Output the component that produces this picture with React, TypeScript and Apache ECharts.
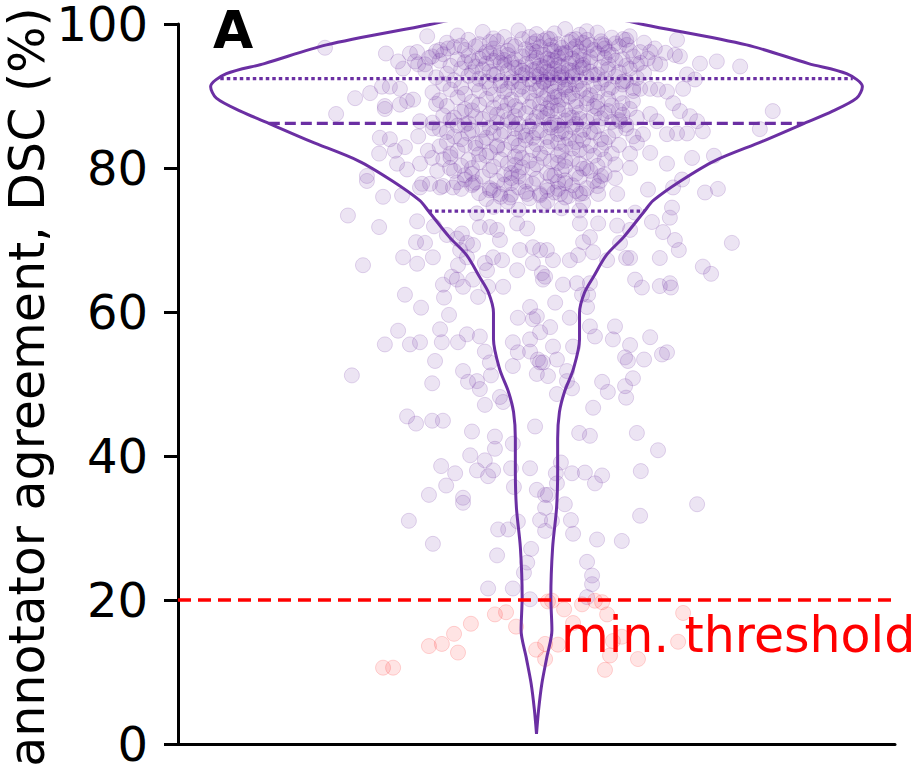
import { useEffect, useRef } from "react";
import * as echarts from "echarts";

// Agreement scale (DSC, %) and the minimum acceptable agreement
const yTicks = [0, 20, 40, 60, 80, 100];
const threshold = 20;
// Lower quartile, median, upper quartile of the DSC distribution
const quartiles = [74.0, 86.2, 92.4];

// Kernel density profile of the violin: DSC level and half-width (jitter units)
const violinDsc = [1.4, 4.8, 8.4, 12.1, 15.8, 20.4, 27.3, 32.8, 37.9, 42.4, 46.1, 48.9, 52.1, 56.2, 59.9, 62.7, 64.9, 67.9, 70.4, 74.0, 75.5, 78.2, 81.0, 83.7, 86.1, 87.9, 89.7, 91.3, 93.1, 94.5, 97.1, 99.9, 101.5, 102.6];
const violinHalfWidth = [0, 0.006, 0.015, 0.029, 0.043, 0.04, 0.045, 0.056, 0.059, 0.059, 0.064, 0.078, 0.103, 0.12, 0.12, 0.134, 0.159, 0.195, 0.243, 0.301, 0.326, 0.402, 0.497, 0.63, 0.742, 0.826, 0.893, 0.909, 0.865, 0.759, 0.586, 0.301, 0.15, 0];

// Individual cases: [horizontal jitter, DSC %]
const coreScores = [
  [-0.22, 98.4], [-0.15, 98.9], [-0.09, 98.2], [-0.05, 99.1], [0.0, 98.6], [0.03, 98.0], [0.08, 99.3], [0.12, 98.5], [0.17, 98.8], [0.21, 98.1], [-0.12, 98.0], [0.05, 98.7], [0.26, 98.3], [-0.02, 98.2], [0.14, 99.0],
  [-0.25, 97.4], [-0.19, 97.8], [-0.16, 97.2], [-0.11, 97.6], [-0.07, 97.1], [-0.04, 97.9], [-0.01, 97.3], [0.02, 97.7], [0.06, 97.2], [0.09, 97.5], [0.11, 97.9], [0.15, 97.1], [0.18, 97.6], [0.22, 97.3], [0.25, 97.8], [0.3, 97.4], [-0.13, 97.5], [0.04, 97.0], [0.13, 97.4], [-0.21, 97.0], [0.19, 97.0], [0.0, 97.6],
  [-0.28, 96.2], [-0.23, 96.8], [-0.2, 96.4], [-0.17, 96.9], [-0.14, 96.1], [-0.12, 96.6], [-0.08, 96.3], [-0.06, 96.9], [-0.03, 96.5], [0.0, 96.1], [0.01, 96.8], [0.04, 96.4], [0.07, 96.7], [0.08, 96.0], [0.1, 96.5], [0.12, 96.2], [0.14, 96.8], [0.16, 96.4], [0.19, 96.6], [0.2, 96.1], [0.23, 96.9], [0.26, 96.3], [0.33, 96.6], [-0.1, 96.0], [0.05, 96.2], [-0.01, 96.3], [0.11, 96.9], [0.36, 96.0],
  [-0.3, 95.3], [-0.26, 95.8], [-0.22, 95.1], [-0.19, 95.6], [-0.16, 95.2], [-0.13, 95.9], [-0.11, 95.4], [-0.08, 95.7], [-0.06, 95.1], [-0.04, 95.5], [-0.02, 95.9], [0.0, 95.3], [0.02, 95.7], [0.04, 95.0], [0.06, 95.4], [0.08, 95.8], [0.1, 95.2], [0.12, 95.6], [0.13, 95.0], [0.15, 95.4], [0.17, 95.9], [0.19, 95.3], [0.21, 95.7], [0.24, 95.1], [0.27, 95.5], [0.31, 95.2], [-0.09, 95.0], [0.03, 95.2], [0.07, 95.9], [-0.15, 95.5],
  [-0.33, 94.4], [-0.27, 94.9], [-0.24, 94.2], [-0.2, 94.7], [-0.17, 94.1], [-0.14, 94.5], [-0.12, 94.9], [-0.09, 94.3], [-0.07, 94.7], [-0.05, 94.0], [-0.03, 94.4], [-0.01, 94.8], [0.01, 94.2], [0.03, 94.6], [0.05, 94.9], [0.07, 94.1], [0.09, 94.5], [0.11, 94.8], [0.13, 94.3], [0.15, 94.7], [0.18, 94.0], [0.2, 94.4], [0.22, 94.9], [0.25, 94.2], [0.29, 94.6], [0.02, 94.0], [-0.1, 94.6], [0.06, 94.3], [0.12, 94.0], [-0.18, 94.8],
  [-0.31, 93.5], [-0.25, 93.1], [-0.21, 93.8], [-0.18, 93.3], [-0.15, 93.7], [-0.11, 93.1], [-0.08, 93.5], [-0.06, 93.9], [-0.03, 93.2], [-0.01, 93.6], [0.01, 93.0], [0.03, 93.4], [0.05, 93.8], [0.07, 93.2], [0.09, 93.6], [0.11, 93.1], [0.13, 93.9], [0.15, 93.4], [0.17, 93.0], [0.2, 93.7], [0.23, 93.3], [0.26, 93.8], [0.3, 93.2], [-0.13, 93.4], [0.0, 93.8], [0.04, 93.0], [0.1, 93.5], [-0.04, 93.5],
  [-0.28, 92.6], [-0.23, 92.2], [-0.19, 92.8], [-0.16, 92.4], [-0.12, 92.9], [-0.1, 92.1], [-0.07, 92.5], [-0.04, 92.9], [-0.02, 92.3], [0.0, 92.7], [0.02, 92.0], [0.04, 92.5], [0.06, 92.9], [0.08, 92.3], [0.1, 92.7], [0.12, 92.1], [0.14, 92.6], [0.16, 92.9], [0.19, 92.3], [0.22, 92.7], [0.25, 92.1], [0.28, 92.5], [-0.05, 92.0], [0.03, 92.3], [0.07, 92.6], [-0.14, 92.0],
  [-0.26, 91.7], [-0.21, 91.2], [-0.17, 91.6], [-0.13, 91.1], [-0.1, 91.5], [-0.07, 91.9], [-0.04, 91.3], [-0.01, 91.7], [0.01, 91.1], [0.04, 91.4], [0.06, 91.8], [0.08, 91.2], [0.11, 91.6], [0.13, 91.0], [0.16, 91.4], [0.18, 91.8], [0.21, 91.2], [0.24, 91.6], [0.27, 91.1], [0.02, 91.9], [-0.08, 91.0], [0.09, 91.5],
  [-0.29, 90.5], [-0.24, 90.9], [-0.2, 90.3], [-0.16, 90.7], [-0.12, 90.2], [-0.09, 90.6], [-0.05, 90.9], [-0.02, 90.4], [0.0, 90.8], [0.03, 90.2], [0.05, 90.6], [0.08, 90.9], [0.1, 90.3], [0.12, 90.7], [0.15, 90.1], [0.17, 90.5], [0.2, 90.9], [0.23, 90.3], [0.27, 90.7], [0.06, 90.0],
  [-0.27, 89.4], [-0.22, 89.8], [-0.18, 89.2], [-0.14, 89.6], [-0.1, 89.1], [-0.07, 89.5], [-0.04, 89.9], [-0.01, 89.3], [0.02, 89.7], [0.04, 89.1], [0.07, 89.5], [0.09, 89.9], [0.11, 89.3], [0.14, 89.7], [0.17, 89.2], [0.2, 89.6], [0.24, 89.0], [0.05, 89.8],
  [-0.25, 88.6], [-0.2, 88.2], [-0.16, 88.8], [-0.12, 88.4], [-0.08, 88.9], [-0.05, 88.1], [-0.02, 88.5], [0.01, 88.9], [0.03, 88.3], [0.06, 88.7], [0.08, 88.1], [0.11, 88.5], [0.14, 88.9], [0.17, 88.3], [0.21, 88.7], [0.26, 88.2],
  [-0.26, 87.3], [-0.21, 87.8], [-0.17, 87.1], [-0.13, 87.5], [-0.09, 87.9], [-0.06, 87.2], [-0.03, 87.6], [0.0, 87.1], [0.03, 87.5], [0.06, 87.9], [0.09, 87.3], [0.12, 87.7], [0.16, 87.2], [0.19, 87.6], [0.24, 87.4],
  [-0.24, 86.6], [-0.19, 86.2], [-0.15, 86.8], [-0.11, 86.3], [-0.08, 86.7], [-0.05, 86.1], [-0.01, 86.5], [0.02, 86.9], [0.05, 86.3], [0.08, 86.6], [0.11, 86.1], [0.14, 86.5], [0.18, 86.9], [0.21, 86.4], [0.25, 86.0],
  [-0.27, 85.4], [-0.22, 85.9], [-0.18, 85.2], [-0.13, 85.6], [-0.09, 85.1], [-0.06, 85.5], [-0.02, 85.8], [0.01, 85.2], [0.04, 85.6], [0.07, 85.1], [0.1, 85.7], [0.13, 85.3], [0.17, 85.8], [0.22, 85.2],
  [-0.23, 84.4], [-0.19, 84.8], [-0.14, 84.2], [-0.1, 84.6], [-0.06, 84.1], [-0.03, 84.5], [0.0, 84.9], [0.03, 84.3], [0.06, 84.7], [0.09, 84.1], [0.12, 84.5], [0.16, 84.9], [0.2, 84.3],
  [-0.25, 83.6], [-0.2, 83.2], [-0.15, 83.7], [-0.11, 83.1], [-0.07, 83.5], [-0.03, 83.9], [0.0, 83.3], [0.04, 83.7], [0.08, 83.2], [0.11, 83.6], [0.15, 83.1], [0.19, 83.5],
  [-0.22, 82.4], [-0.17, 82.8], [-0.13, 82.2], [-0.09, 82.6], [-0.05, 82.1], [-0.01, 82.5], [0.03, 82.9], [0.07, 82.3], [0.1, 82.7], [0.14, 82.2], [0.18, 82.6],
  [-0.24, 81.5], [-0.19, 81.1], [-0.14, 81.7], [-0.1, 81.2], [-0.06, 81.6], [-0.02, 81.0], [0.02, 81.4], [0.06, 81.8], [0.1, 81.3], [0.16, 81.7],
  [-0.21, 80.3], [-0.16, 80.8], [-0.12, 80.2], [-0.08, 80.6], [-0.04, 80.1], [0.0, 80.5], [0.04, 80.9], [0.08, 80.2], [0.12, 80.6], [0.17, 80.3],
  [-0.23, 79.6], [-0.18, 79.2], [-0.13, 79.7], [-0.09, 79.1], [-0.05, 79.5], [-0.01, 79.9], [0.03, 79.3], [0.07, 79.7], [0.11, 79.2], [0.15, 79.6],
  [-0.2, 78.4], [-0.15, 78.8], [-0.11, 78.2], [-0.07, 78.6], [-0.03, 78.1], [0.0, 78.5], [0.04, 78.9], [0.08, 78.3], [0.12, 78.7], [0.16, 78.2],
  [-0.18, 77.6], [-0.13, 77.2], [-0.09, 77.7], [-0.05, 77.3], [-0.01, 77.8], [0.03, 77.4], [0.06, 77.1], [0.1, 77.6], [0.14, 77.2],
  [-0.16, 76.5], [-0.12, 76.9], [-0.07, 76.3], [-0.03, 76.7], [0.01, 76.2], [0.05, 76.6], [0.09, 76.1], [0.13, 76.5],
  [-0.14, 75.7], [-0.08, 75.3], [-0.02, 75.8], [0.03, 75.4], [0.08, 75.9], [0.13, 75.2],
  [-0.12, 74.6], [-0.05, 74.2], [0.02, 74.8], [0.07, 74.4], [0.12, 74.1],
  [-0.28, 88.9], [-0.18, 88.0], [-0.06, 88.6], [0.04, 88.0], [0.16, 88.6], [0.23, 88.0],
  [-0.23, 87.0], [-0.11, 87.4], [0.01, 87.8], [0.1, 87.0], [0.2, 87.9], [0.28, 87.0],
  [-0.2, 86.0], [-0.07, 86.4], [0.04, 86.0], [0.12, 86.8], [0.23, 86.7], [-0.29, 86.3],
  [-0.25, 85.0], [-0.15, 85.3], [-0.04, 85.0], [0.06, 85.9], [0.15, 85.0], [0.25, 85.5],
  [-0.21, 84.0], [-0.12, 84.9], [-0.01, 84.2], [0.08, 84.9], [0.18, 84.0], [0.27, 84.4],
  [-0.27, 83.0], [-0.17, 83.4], [-0.05, 83.1], [0.06, 83.5], [0.13, 83.9], [0.23, 83.2],
  [-0.24, 82.0], [-0.11, 82.9], [0.01, 82.0], [0.12, 82.5], [0.21, 82.0],
  [-0.26, 81.2], [-0.16, 81.9], [-0.04, 81.4], [0.08, 81.0], [0.19, 81.2],
  [-0.18, 80.0], [-0.06, 80.4], [0.06, 80.7], [0.14, 80.0], [0.22, 80.5],
  [-0.2, 79.0], [-0.07, 79.3], [0.05, 79.0], [0.13, 79.9], [0.19, 79.1],
  [-0.17, 78.0], [-0.05, 78.8], [0.06, 78.1], [0.18, 78.9],
  [-0.21, 77.1], [-0.07, 77.9], [0.08, 77.9], [0.17, 77.5],
  [-0.1, 76.0], [0.03, 76.9], [0.11, 76.8],
];

const upperSpread = [
  [-0.59, 96.7], [-0.42, 95.9], [-0.305, 98.3], [-0.506, 89.7], [-0.464, 90.4], [-0.559, 87.5], [-0.473, 78.9], [-0.439, 82.0], [-0.437, 84.2], [-0.409, 84.0], [-0.395, 82.4], [-0.367, 82.9], [-0.389, 80.6], [-0.361, 79.8], [-0.325, 80.6], [-0.423, 88.6], [-0.423, 88.2], [-0.381, 88.8], [-0.361, 89.3], [-0.344, 89.5], [-0.431, 91.3], [-0.409, 91.3], [-0.381, 91.0], [-0.386, 94.8], [-0.372, 93.8], [-0.353, 95.9], [-0.333, 96.1], [-0.339, 94.8], [-0.311, 94.4], [-0.291, 95.5], [-0.269, 96.4], [-0.247, 96.6], [-0.325, 86.5], [-0.289, 85.5], [-0.33, 84.4], [-0.303, 82.4], [-0.291, 81.4], [-0.277, 79.6], [-0.241, 80.0], [-0.297, 77.8], [-0.261, 77.5], [-0.222, 78.0], [-0.319, 77.8],
  [0.038, 97.9], [0.099, 97.8], [0.141, 97.8], [0.183, 97.2], [0.241, 97.9], [0.252, 97.1], [0.289, 96.1], [0.317, 96.1], [0.331, 94.5], [0.345, 94.4], [0.392, 97.8], [0.386, 95.7], [0.4, 95.5], [0.456, 94.5], [0.503, 94.8], [0.568, 94.1], [0.42, 93.0], [0.442, 92.3], [0.409, 91.0], [0.364, 90.6], [0.339, 90.9], [0.317, 91.0], [0.381, 89.0], [0.4, 87.9], [0.428, 87.2], [0.448, 86.5], [0.464, 85.1], [0.42, 84.8], [0.392, 84.8], [0.364, 84.7], [0.336, 86.5], [0.317, 87.5], [0.297, 84.7], [0.317, 82.1], [0.28, 83.5], [0.261, 82.0], [0.364, 80.6], [0.434, 81.4], [0.495, 81.7], [0.406, 78.4], [0.659, 87.9], [0.623, 85.4], [0.261, 80.0], [0.219, 78.6], [0.177, 78.2], [0.233, 86.5], [0.269, 89.3], [0.289, 91.0], [0.241, 92.0], [0.28, 94.4],
];

const midSpread = [
  [-0.473, 78.2], [-0.428, 76.0], [-0.375, 76.2], [-0.325, 77.3], [-0.526, 73.4], [-0.439, 71.8], [-0.333, 72.6], [-0.286, 71.9], [-0.336, 69.7], [-0.311, 69.6], [-0.289, 67.6], [-0.372, 67.6], [-0.333, 66.7], [-0.484, 66.5], [-0.261, 63.8], [-0.367, 62.4], [-0.322, 60.6], [-0.258, 62.0], [-0.244, 59.6], [-0.269, 57.6], [-0.386, 57.4], [-0.423, 55.5], [-0.353, 55.5], [-0.325, 55.8], [-0.264, 55.8], [-0.219, 55.8], [-0.194, 56.9], [-0.158, 56.6],
  [-0.25, 70.7], [-0.222, 70.2], [-0.208, 70.9], [-0.194, 69.6], [-0.177, 69.3], [-0.213, 68.6], [-0.219, 66.5], [-0.194, 67.6], [-0.236, 64.9], [-0.222, 64.5], [-0.205, 63.5], [-0.177, 64.5], [-0.163, 62.1], [-0.135, 63.5], [-0.144, 66.8], [-0.121, 67.6], [-0.096, 67.2], [-0.138, 65.8], [-0.093, 63.5], [-0.054, 65.8], [-0.052, 59.2], [-0.018, 60.7], [-0.01, 59.0], [0.01, 57.2], [-0.018, 56.2], [-0.066, 55.8],
  [-0.166, 73.7], [-0.158, 71.8], [-0.13, 71.8], [-0.11, 71.4], [-0.102, 70.0], [-0.054, 72.3], [-0.026, 71.6], [-0.01, 69.0], [0.01, 68.6], [-0.046, 68.6], [-0.01, 66.8], [0.015, 65.4], [0.018, 64.5], [0.001, 59.4],
  [-0.269, 77.3], [-0.233, 77.3], [-0.177, 77.8], [-0.13, 76.9], [-0.102, 76.4], [-0.074, 75.9], [-0.026, 76.4], [0.01, 76.4],
  [0.311, 77.0], [0.381, 77.3], [0.47, 76.6], [0.506, 77.1], [0.378, 74.5], [0.372, 73.1], [0.322, 72.5], [0.353, 71.1], [0.386, 70.0], [0.397, 68.6], [0.344, 67.5], [0.545, 69.6], [0.464, 66.3], [0.487, 65.3], [0.275, 64.5], [0.294, 63.4], [0.344, 63.6], [0.372, 64.0], [0.375, 63.4], [0.25, 67.5], [0.261, 67.5], [0.219, 58.0], [0.317, 56.5], [0.261, 55.4],
  [0.172, 72.3], [0.121, 72.3], [0.225, 72.0], [0.261, 71.4], [0.233, 69.6], [0.197, 67.2], [0.149, 70.4], [0.158, 68.3], [0.116, 67.9], [0.093, 67.2], [0.046, 67.2], [0.029, 68.6], [0.13, 69.7], [0.074, 63.8], [0.113, 64.0], [0.149, 64.0], [0.127, 62.4], [0.144, 62.4], [0.052, 61.3], [0.141, 60.7], [0.093, 59.2], [0.038, 57.9], [0.149, 58.0], [0.163, 56.6], [0.213, 56.2], [0.102, 55.2], [0.046, 55.2], [0.024, 64.9], [0.275, 73.8], [0.225, 76.4], [0.172, 76.4], [0.121, 76.4], [0.066, 76.4],
];

const lowerSpread = [
  [-0.283, 53.2], [-0.515, 51.2], [-0.291, 50.1], [-0.205, 51.8], [-0.191, 50.3], [-0.166, 50.4], [-0.158, 49.3], [-0.127, 51.2], [-0.144, 54.5], [-0.13, 53.0], [-0.102, 48.2], [-0.093, 47.5], [-0.144, 47.1], [-0.361, 45.5], [-0.336, 44.5], [-0.291, 44.9], [-0.261, 44.9], [-0.18, 43.4], [-0.116, 42.7], [-0.116, 41.0], [-0.066, 41.7], [-0.185, 40.1], [-0.144, 39.4], [-0.166, 38.0], [-0.135, 37.2], [-0.121, 38.0], [-0.071, 38.3], [-0.266, 38.6], [-0.227, 37.6], [-0.252, 35.9], [-0.3, 34.6], [-0.205, 34.2], [-0.205, 33.5], [-0.063, 35.7],
  [-0.052, 54.4], [-0.066, 52.5], [-0.018, 54.5], [0.004, 53.4], [0.01, 53.0], [0.001, 51.4], [-0.004, 44.1], [-0.018, 38.3], [0.001, 35.3], [0.024, 34.6],
  [0.35, 54.1], [0.364, 54.4], [0.247, 53.7], [0.255, 53.2], [0.3, 53.4], [0.018, 53.0], [0.057, 53.4], [0.085, 51.8], [0.032, 51.1], [0.085, 50.4], [0.099, 49.4], [0.057, 48.6], [0.183, 50.3], [0.199, 48.9], [0.247, 49.7], [0.269, 50.8], [0.25, 48.1], [0.158, 46.7], [0.119, 43.2], [0.149, 42.8], [0.28, 43.2], [0.339, 40.8], [0.068, 39.1], [0.054, 37.6], [0.099, 37.6], [0.135, 37.7], [0.183, 37.3], [0.163, 36.2], [0.057, 36.2], [0.032, 34.6], [0.079, 33.3], [0.291, 37.9], [0.448, 33.3],
  [-0.356, 31.0], [-0.289, 27.8], [-0.107, 29.8], [-0.079, 29.8], [-0.052, 30.9], [0.024, 32.8], [0.01, 31.1], [0.024, 29.6], [-0.11, 26.2], [-0.015, 27.1], [-0.026, 25.2], [-0.035, 23.8], [-0.135, 21.6], [-0.066, 21.6], [-0.018, 20.1],
  [0.096, 31.1], [0.043, 31.0], [0.102, 29.2], [0.169, 28.4], [0.238, 28.2], [0.289, 31.7], [0.141, 25.3], [0.155, 23.4], [0.155, 22.2], [0.141, 20.4],
];

const lowScores = [
  [-0.116, 18.0], [-0.085, 18.3], [-0.183, 16.7], [-0.23, 15.3], [-0.264, 13.9], [-0.3, 13.6], [-0.219, 12.7], [-0.4, 10.6], [-0.428, 10.6], [-0.057, 16.3], [-0.001, 13.1], [0.024, 13.9], [0.024, 11.8], [0.032, 19.8], [0.043, 19.9], [0.077, 18.7], [0.127, 19.4], [0.163, 19.9], [0.183, 19.7], [0.197, 18.0], [0.102, 16.8], [0.409, 18.2], [0.395, 14.2], [0.213, 14.3], [0.238, 14.9], [0.06, 13.8], [0.205, 12.3], [0.283, 11.8], [0.191, 10.3],
];

const FONT = "DejaVu Sans";
const PURPLE = "#6b2fa3";

function halfWidthAt(level: number): number {
  for (let i = 1; i < violinDsc.length; i++) {
    if (level <= violinDsc[i]) {
      const t = (level - violinDsc[i - 1]) / (violinDsc[i] - violinDsc[i - 1]);
      return violinHalfWidth[i - 1] + t * (violinHalfWidth[i] - violinHalfWidth[i - 1]);
    }
  }
  return 0;
}

export default function App() {
  const ref = useRef<HTMLDivElement>(null);

  useEffect(() => {
    if (!ref.current) return;
    const chart = echarts.init(ref.current, undefined, { renderer: "svg" });

    const allPoints = [...coreScores, ...upperSpread, ...midSpread, ...lowerSpread, ...lowScores];
    const passing = allPoints.filter((p) => p[1] >= threshold);
    const failing = allPoints.filter((p) => p[1] < threshold);

    const leftSide = violinDsc.map((d, i) => [-violinHalfWidth[i], d]);
    const rightSide = violinDsc.map((d, i) => [violinHalfWidth[i], d]).reverse();
    const outline = [...leftSide, ...rightSide];

    const quartileSeries = quartiles.map((q, i) => {
      const w = halfWidthAt(q);
      return {
        type: "line",
        silent: true,
        showSymbol: false,
        z: 4,
        data: [[-w, q], [w, q]],
        lineStyle: { color: PURPLE, width: 3.2, type: i === 1 ? [11, 5] : [3.5, 3] },
      };
    });

    chart.setOption({
      animation: false,
      grid: { left: 178, right: 22, top: 22, bottom: 20 },
      xAxis: {
        type: "value",
        min: -1,
        max: 1,
        axisLine: { show: true, onZero: false, lineStyle: { color: "#000", width: 3 } },
        axisTick: { show: false },
        axisLabel: { show: false },
        splitLine: { show: false },
      },
      yAxis: {
        type: "value",
        min: yTicks[0],
        max: yTicks[yTicks.length - 1],
        interval: 20,
        axisLine: { show: true, onZero: false, lineStyle: { color: "#000", width: 3 } },
        axisTick: { show: true, inside: false, length: 14, lineStyle: { color: "#000", width: 3 } },
        axisLabel: { color: "#000", fontSize: 48, fontFamily: FONT, margin: 30 },
        splitLine: { show: false },
      },
      series: [
        {
          type: "scatter",
          silent: true,
          z: 2,
          symbolSize: 15,
          data: passing,
          itemStyle: { color: "rgba(107,47,163,0.16)", borderColor: "rgba(107,47,163,0.24)", borderWidth: 1 },
        },
        {
          type: "scatter",
          silent: true,
          z: 2,
          symbolSize: 15,
          data: failing,
          itemStyle: { color: "rgba(255,0,0,0.13)", borderColor: "rgba(255,0,0,0.2)", borderWidth: 1 },
        },
        {
          type: "line",
          silent: true,
          showSymbol: false,
          smooth: 0.3,
          clip: true,
          z: 4,
          data: outline,
          lineStyle: { color: PURPLE, width: 3 },
        },
        ...quartileSeries,
        {
          type: "line",
          silent: true,
          showSymbol: false,
          z: 5,
          data: [[-1, threshold], [1, threshold]],
          lineStyle: { color: "#ff0000", width: 3.5, type: [13, 7] },
        },
      ],
      graphic: [
        {
          type: "text",
          x: 27,
          y: 387,
          rotation: Math.PI / 2,
          style: {
            text: "annotator agreement, DSC (%)",
            fontSize: 49,
            fontFamily: FONT,
            fill: "#000",
            align: "center",
            verticalAlign: "middle",
          },
        },
        {
          type: "text",
          x: 213,
          y: 30,
          style: {
            text: "A",
            fontSize: 52,
            fontWeight: "bold",
            fontFamily: FONT,
            fill: "#000",
            align: "left",
            verticalAlign: "middle",
          },
        },
        {
          type: "text",
          x: 561,
          y: 635,
          z: 10,
          style: {
            text: "min. threshold",
            fontSize: 49,
            fontFamily: FONT,
            fill: "#ff0000",
            align: "left",
            verticalAlign: "middle",
          },
        },
      ],
    });

    return () => chart.dispose();
  }, []);

  return (
    <div
      ref={ref}
      style={{ position: "fixed", left: 0, top: 0, width: 917, height: 768, background: "#fff" }}
    />
  );
}
